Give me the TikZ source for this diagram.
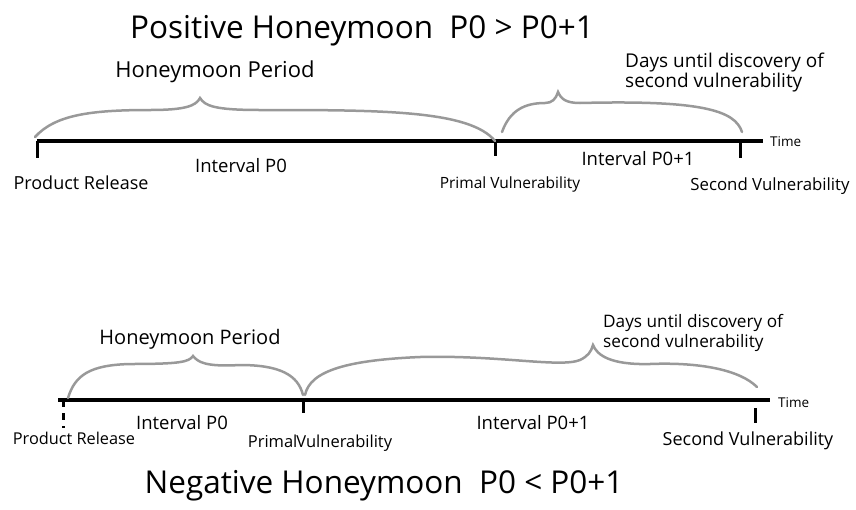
\documentclass[tikz,border=0pt]{standalone}
\usepackage{fontspec}
\setmainfont{Open Sans}
\definecolor{bracecolor}{rgb}{0.6, 0.6, 0.6}
\usetikzlibrary{positioning}
\tikzset{
	axis/.style={
		line width=4pt,
		draw=black
	},
	marker/.style={
		line width=3pt,
		draw=black
	},
	brace/.style={
		line width=2.5pt,
		draw=bracecolor,
		line cap=round
	},
	txt/.style={
		font=\fontsize{#1}{#1}\selectfont,
		inner sep=0pt
	},
	note/.style={
		font=\fontsize{#1}{20}\selectfont,
		align=left,
		anchor=west,
		inner sep=0pt
	},
	timelabel/.style={
		font=\fontsize{13.5}{14}\selectfont,
		anchor=west,
		inner sep=0pt
	},
}

\begin{document}
\begin{tikzpicture}[x=1pt,y=-1pt]
			\useasboundingbox (0,0) rectangle (856,509);
			% positive honeymoon
			\node[txt=31.5] (ptitle) at (362,31) {Positive Honeymoon\ \ P0 > P0+1};
			\coordinate (pa) at (37,141);
			\coordinate (pb) at (495,141);
			\coordinate (pc) at (740,141);
			\coordinate (pend) at (763,141);
			\draw[axis] (pa) -- (pend);
			\draw[marker] (pa) -- ++(0,17);
			\draw[marker] (pb) -- ++(0,15);
			\draw[marker] (pc) -- ++(0,17);
			\node[timelabel] (ptime) at (770,142) {Time};
			\node[txt=22] (phoney) at (215,72) {Honeymoon Period};
			\node[note=19] (pdays) at (625,73) {Days until discovery of\\second vulnerability};
			\node[txt=18.5] (pint0) at (241,166) {Interval P0};
			\node[txt=18.5] (pint1) at (638,159) {Interval P0+1};
			\node[txt=18] (prel) at (81,183) {Product Release};
			\node[txt=15.5] (pprim) at (510,184) {Primal Vulnerability};
			\node[txt=16.8] (psec) at (770,186) {Second Vulnerability};
			\draw[brace] (35,137) .. controls (55,115) and (90,110) .. (150,110)
				.. controls (185,110) and (196,106) .. (200,98)
				.. controls (205,106) and (215,110) .. (260,110)
				.. controls (380,110) and (470,110) .. (pb);
			\draw[brace] (502,132) .. controls (510,110) and (525,103) .. (545,103)
				.. controls (552,103) and (556,99) .. (558,92)
				.. controls (561,99) and (566,103) .. (580,103)
				.. controls (700,100) and (735,110) .. (742,132);
			% negative honeymoon
			\coordinate (na) at (63,400);
			\coordinate (nstart) at (58,400);
			\coordinate (nb) at (303,400);
			\coordinate (nend) at (770,400);
			\coordinate (nc) at (755,408);
			\draw[axis] (nstart) -- (nend);
			\draw[marker,dash pattern=on 7pt off 6pt] (na) -- ++(0,28);
			\draw[marker] (nb) -- ++(0,13);
			\draw[marker] (nc) -- ++(0,15);
			\node[timelabel] (ntime) at (778,403) {Time};
			\node[txt=20] (nhoney) at (190,339) {Honeymoon Period};
			\node[note=17.2] (ndays) at (603,333) {Days until discovery of\\second vulnerability};
			\node[txt=18.5] (nint0) at (182,423) {Interval P0};
			\node[txt=18.5] (nint1) at (533,423) {Interval P0+1};
			\node[txt=16.3] (nrel) at (74,438) {Product Release};
			\node[txt=16.5] (nprim) at (320,443) {Primal\kern-1pt Vulnerability};
			\node[txt=18] (nsec) at (748,441) {Second Vulnerability};
			\draw[brace] (68,398) .. controls (75,375) and (90,365) .. (130,364)
				.. controls (180,364) and (189,362) .. (193,356)
				.. controls (198,362) and (205,367) .. (240,365)
				.. controls (280,365) and (298,375) .. (303,395);
			\draw[brace] (305,395) .. controls (310,370) and (350,360) .. (420,357)
				.. controls (500,355) and (560,368) .. (580,360)
				.. controls (588,356) and (591,352) .. (593,345)
				.. controls (597,355) and (610,365) .. (650,364)
				.. controls (700,362) and (740,370) .. (757,387);
			\node[txt=31.5] (ntitle) at (384,486) {Negative Honeymoon\ \ P0 < P0+1};
\end{tikzpicture}
\end{document}
